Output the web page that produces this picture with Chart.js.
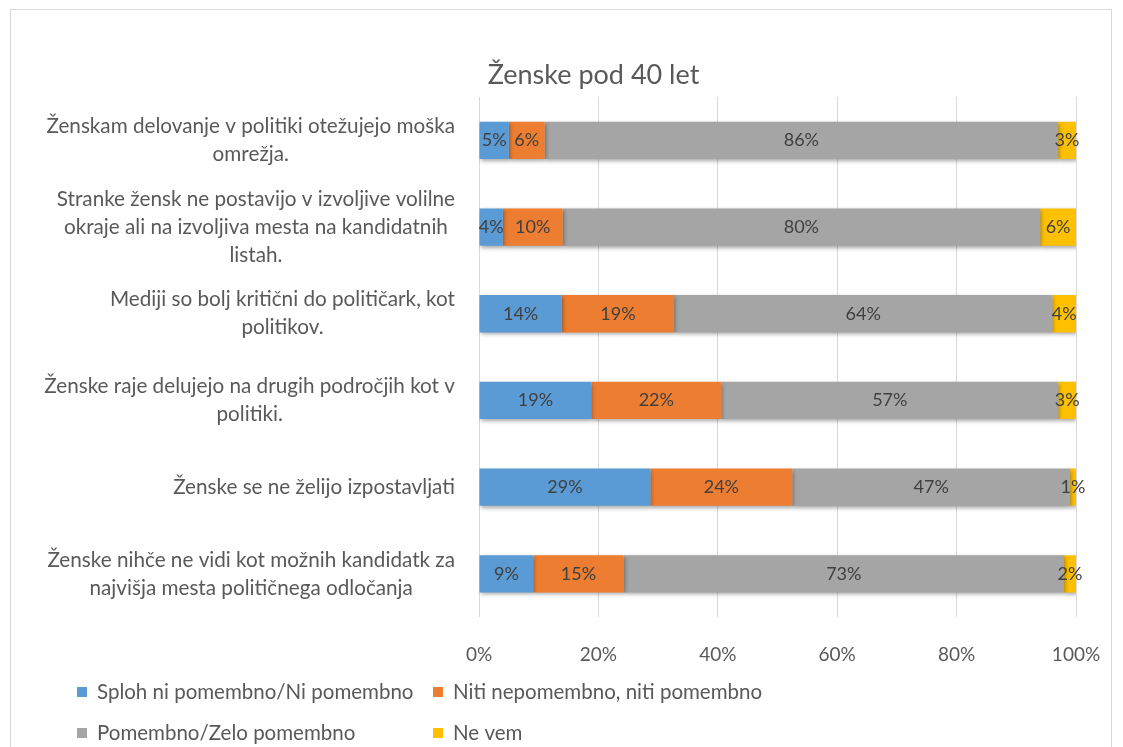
<!DOCTYPE html>
<html>
<head>
<meta charset="utf-8">
<script src="https://cdn.jsdelivr.net/npm/chart.js@4.4.1/dist/chart.umd.min.js"></script>
<style>
  body { margin: 0; background: #fff; }
  #frame { position: absolute; left: 10px; top: 9px; width: 1100px; height: 760px; border: 1px solid #d9d9d9; }
  #wrap { position: absolute; left: 0; top: 0; width: 1123px; height: 747px; }
</style>
</head>
<body>
<div id="frame"></div>
<div id="wrap"><canvas id="chart" width="1123" height="747"></canvas></div>
<script>
// Chart data
const title = 'Ženske pod 40 let';
const categories = [
    ['Ženskam delovanje v politiki otežujejo moška', 'omrežja.'],
    ['Stranke žensk ne postavijo v izvoljive volilne', 'okraje ali na izvoljiva mesta na kandidatnih', 'listah.'],
    ['Mediji so bolj kritični do političark, kot', 'politikov.'],
    ['Ženske raje delujejo na drugih področjih kot v', 'politiki.'],
    ['Ženske se ne želijo izpostavljati'],
    ['Ženske nihče ne vidi kot možnih kandidatk za', 'najvišja mesta političnega odločanja']
];
const seriesNames = ['Sploh ni pomembno/Ni pomembno', 'Niti nepomembno, niti pomembno', 'Pomembno/Zelo pomembno', 'Ne vem'];
const splohNi = [5, 4, 14, 19, 29, 9];
const nitiNiti = [6, 10, 19, 22, 24, 15];
const pomembno = [86, 80, 64, 57, 47, 73];
const neVem = [3, 6, 4, 3, 1, 2];
const xTicks = [0, 20, 40, 60, 80, 100];
const colors = ['#5B9BD5', '#ED7D31', '#A5A5A5', '#FFC000'];

const FONT = 'Lato, "Open Sans", sans-serif';
const TEXT = '#595959';

// 100% stacked: normalise every row
const raw = [splohNi, nitiNiti, pomembno, neVem];
const totals = categories.map((c, i) => raw.reduce((s, arr) => s + arr[i], 0));

const datasets = raw.map((arr, k) => ({
    label: seriesNames[k],
    data: arr.map((v, i) => v / totals[i] * 100),
    rawData: arr,
    backgroundColor: colors[k],
    borderWidth: 0,
    barPercentage: 0.43,
    categoryPercentage: 1
}));

// Title, category labels, value labels, legend
const decor = {
    id: 'decor',
    beforeDatasetsDraw(chart) {
        const ctx = chart.ctx;
        ctx.save();
        ctx.shadowColor = 'rgba(0,0,0,0.35)';
        ctx.shadowBlur = 4;
        ctx.shadowOffsetY = 2;
        ctx.shadowOffsetX = 1;
    },
    afterDatasetsDraw(chart) {
        const ctx = chart.ctx;
        ctx.restore();
        const area = chart.chartArea;
        const yScale = chart.scales.y;

        // title
        ctx.save();
        ctx.fillStyle = TEXT;
        ctx.font = '27px ' + FONT;
        ctx.textAlign = 'center';
        ctx.textBaseline = 'middle';
        ctx.fillText(title, chart.width / 2 + 32, 75);

        // category labels: block right aligned, lines centered
        ctx.font = '20.7px ' + FONT;
        categories.forEach((lines, i) => {
            const yc = yScale.getPixelForValue(i);
            const w = Math.max(...lines.map(l => ctx.measureText(l).width));
            const cx = area.left - 24 - w / 2;
            const lh = 28;
            lines.forEach((l, j) => {
                ctx.fillText(l, cx, yc + (j - (lines.length - 1) / 2) * lh);
            });
        });

        // value labels
        ctx.fillStyle = '#404040';
        ctx.font = '18px ' + FONT;
        chart.data.datasets.forEach((ds, k) => {
            chart.getDatasetMeta(k).data.forEach((bar, i) => {
                const x = (bar.x + bar.base) / 2;
                ctx.fillText(ds.rawData[i] + '%', x, bar.y);
            });
        });

        // legend in two columns
        ctx.font = '20.5px ' + FONT;
        ctx.textAlign = 'left';
        const colX = [77, 433];
        const rowY = [692, 733];
        seriesNames.forEach((name, k) => {
            const x = colX[k % 2];
            const y = rowY[Math.floor(k / 2)];
            ctx.fillStyle = colors[k];
            ctx.fillRect(x, y - 5, 10, 10);
            ctx.fillStyle = TEXT;
            ctx.fillText(name, x + 20, y);
        });
        ctx.restore();
    }
};

new Chart(document.getElementById('chart'), {
    type: 'bar',
    data: { labels: categories.map(c => c.join(' ')), datasets: datasets },
    options: {
        indexAxis: 'y',
        responsive: false,
        animation: false,
        layout: { padding: { left: 471, right: 47, top: 97, bottom: 55 } },
        plugins: {
            legend: { display: false },
            title: { display: false },
            tooltip: { enabled: false }
        },
        scales: {
            x: {
                stacked: true,
                min: 0,
                max: 100,
                afterBuildTicks(scale) {
                    scale.ticks = xTicks.map(v => ({ value: v }));
                },
                afterFit(scale) {
                    scale.paddingLeft = 0;
                    scale.paddingRight = 0;
                },
                ticks: {
                    color: TEXT,
                    font: { family: FONT, size: 19 },
                    padding: 26,
                    callback: v => v + '%'
                },
                grid: { color: '#D9D9D9', lineWidth: 1, drawTicks: false },
                border: { display: false }
            },
            y: {
                stacked: true,
                ticks: { display: false },
                grid: { display: false },
                border: { display: false }
            }
        }
    },
    plugins: [decor]
});
</script>
</body>
</html>
